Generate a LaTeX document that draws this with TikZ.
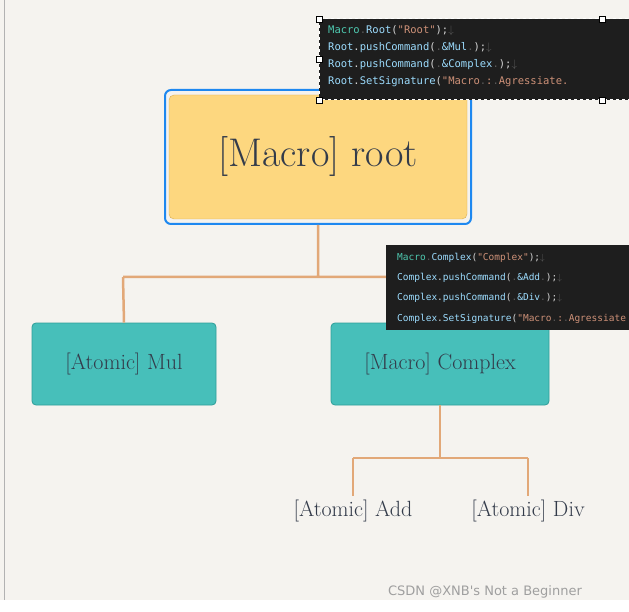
\documentclass[tikz,border=0pt]{standalone}
\usepackage{fontspec}
\newfontfamily\codefont{DejaVu Sans Mono}
\newfontfamily\wmfont{DejaVu Sans}
\begin{document}
\begin{tikzpicture}[x=1pt,y=-1pt,
  conn/.style={draw=lineC,line width=2.5pt},
  teal/.style={draw=tealB,fill=tealF,rounded corners=4pt,line width=0.8pt},
  lbl/.style={font=\fontsize{22}{24}\selectfont,text=txtC},
  code/.style={font=\codefont\fontsize{10.5}{20}\selectfont,anchor=west,inner sep=0pt},
  handle/.style={draw=black,fill=white,minimum size=6pt,inner sep=0pt}]
\definecolor{bgC}{HTML}{F5F3EF}
\definecolor{lineC}{HTML}{E2A878}
\definecolor{tealF}{HTML}{47BFBA}
\definecolor{tealB}{HTML}{2E9E99}
\definecolor{yelF}{HTML}{FDD77F}
\definecolor{yelB}{HTML}{D8AE55}
\definecolor{selB}{HTML}{1E88F0}
\definecolor{txtC}{HTML}{333B4A}
\definecolor{codeBg}{HTML}{1E1E1E}
\definecolor{kw}{HTML}{4EC9B0}
\definecolor{id}{HTML}{9CDCFE}
\definecolor{str}{HTML}{CE9178}
\definecolor{pun}{HTML}{D4D4D4}
\definecolor{dim}{HTML}{5A5A5A}
\useasboundingbox (0,0) rectangle (629,612);
\fill[bgC] (0,0) rectangle (629,612);
\fill[white] (0,600) rectangle (629,612);
\draw[gray!60] (4,0) -- (4,600);
% connectors
\coordinate (j1) at (318,277);
\coordinate (jl) at (123,277);
\coordinate (jr) at (440,277);
\coordinate (j2) at (440,458);
\coordinate (jadd) at (353,458);
\coordinate (jdiv) at (528,458);
\node[draw=selB,line width=2pt,rounded corners=6pt,minimum width=306pt,minimum height=134pt] (sel) at (318,157) {};
\node[draw=yelB,fill=yelF,rounded corners=5pt,minimum width=298pt,minimum height=124pt,lbl,font=\fontsize{40}{44}\selectfont] (root) at (318,157) {[Macro] root};
\node[teal,minimum width=184pt,minimum height=82pt,lbl] (mul) at (124,364) {[Atomic] Mul};
\node[teal,minimum width=218pt,minimum height=82pt,lbl] (cplx) at (440,364) {[Macro] Complex};
\node[lbl] (add) at (353,511) {[Atomic] Add};
\node[lbl] (div) at (528,511) {[Atomic] Div};
\draw[conn] (sel.south) -- (j1) (jl) -- (jr) (jl) -- (mul.north) (jr) -- (cplx.north);
\draw[conn] (cplx.south) -- (j2) (jadd) -- (jdiv) (jadd) -- (add.north) (jdiv) -- (div.north);
% code box 1
\fill[codeBg] (319,19) rectangle (629,100);
\draw[white,dashed,line width=1pt] (319,19) -- (629,19) (319,19) -- (319,100) -- (629,100);
\node[code] (c1) at (328,31) {\color{kw}Macro\color{dim}.\color{id}Root\color{pun}(\color{str}"Root"\color{pun});\color{dim}$\downarrow$};
\node[code] (c2) at (328,48) {\color{id}Root\color{pun}.\color{id}pushCommand\color{pun}(\color{dim}.\color{id}\&Mul\color{dim}.\color{pun});\color{dim}$\downarrow$};
\node[code] (c3) at (328,65) {\color{id}Root\color{pun}.\color{id}pushCommand\color{pun}(\color{dim}.\color{id}\&Complex\color{dim}.\color{pun});\color{dim}$\downarrow$};
\node[code] (c4) at (328,82) {\color{id}Root\color{pun}.\color{id}SetSignature\color{pun}(\color{str}"Macro\color{dim}.\color{str}:\color{dim}.\color{str}Agressiate.};
\fill[codeBg] (329,92) rectangle (629,99.5);
\foreach \p/\n in {{(319,19)}/h1,{(602,19)}/h2,{(319,59)}/h3,{(319,100)}/h4,{(602,100)}/h5}
  \node[handle] (\n) at \p {};
% code box 2
\fill[codeBg] (386,245) rectangle (629,330);
\begin{scope}[every node/.style={code,font=\codefont\fontsize{9.5}{20}\selectfont}]
\node (d1) at (397,258) {\color{kw}Macro\color{dim}.\color{id}Complex\color{pun}(\color{str}"Complex"\color{pun});\color{dim}$\downarrow$};
\node (d2) at (397,278) {\color{id}Complex\color{pun}.\color{id}pushCommand\color{pun}(\color{dim}.\color{id}\&Add\color{dim}.\color{pun});\color{dim}$\downarrow$};
\node (d3) at (397,298) {\color{id}Complex\color{pun}.\color{id}pushCommand\color{pun}(\color{dim}.\color{id}\&Div\color{dim}.\color{pun});\color{dim}$\downarrow$};
\node (d4) at (397,319) {\color{id}Complex\color{pun}.\color{id}SetSignature\color{pun}(\color{str}"Macro\color{dim}.\color{str}:\color{dim}.\color{str}Agressiate};
\end{scope}
\fill[bgC] (629,0) rectangle (640,612);
\useasboundingbox (0,0) rectangle (629,612);
\node[font=\wmfont\fontsize{13}{15}\selectfont,text=gray!75] (wm) at (485,592) {CSDN @XNB's Not a Beginner};
\end{tikzpicture}
\end{document}
